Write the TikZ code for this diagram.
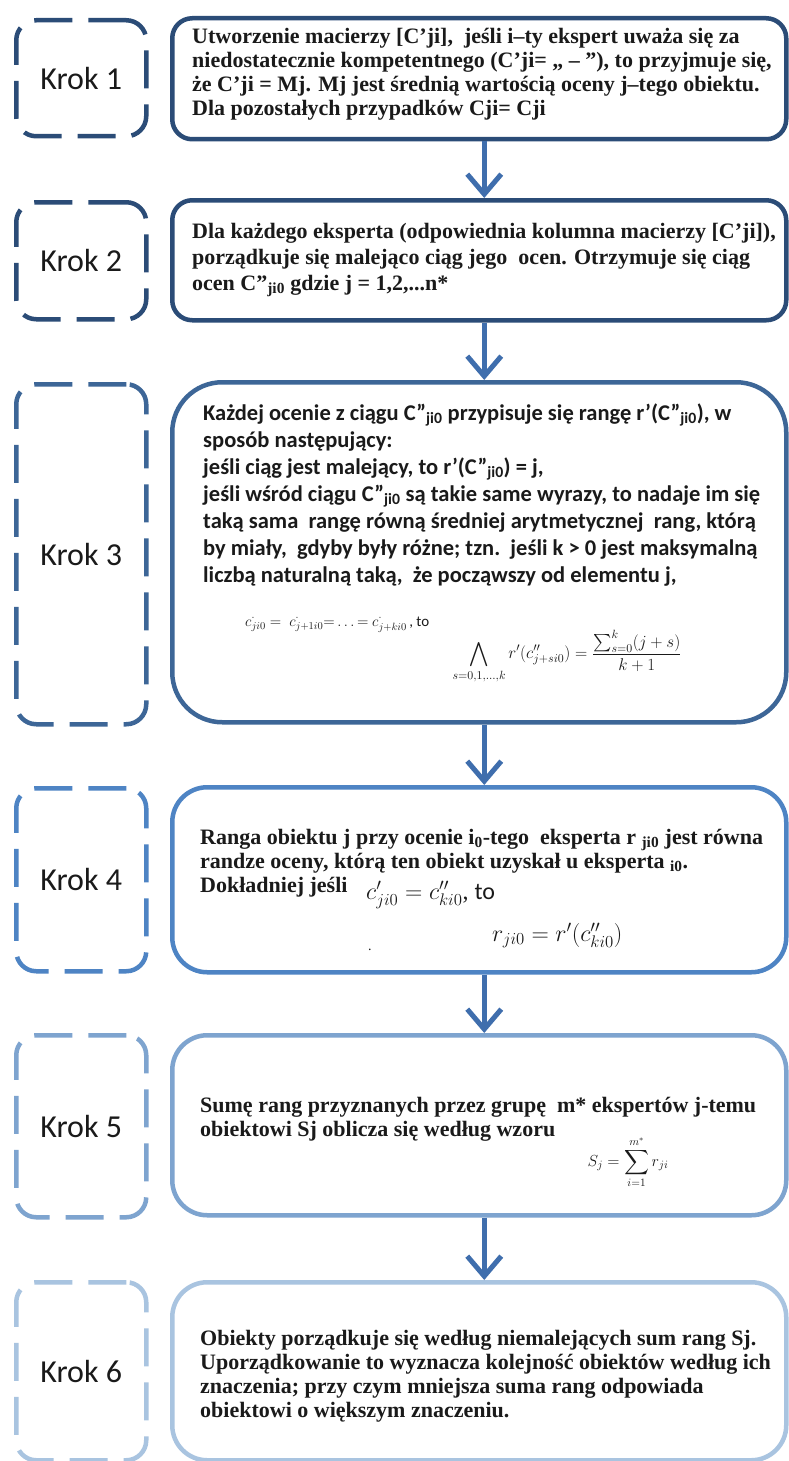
\documentclass[tikz,border=0pt]{standalone}
\usepackage{fix-cm}
\usepackage{amsmath}
\usepackage{fontspec}
\setmainfont{Liberation Serif}
\newfontfamily\calib{Carlito}
\usetikzlibrary{arrows.meta}
\definecolor{cA}{HTML}{2B4C77}
\definecolor{cC}{HTML}{3D6697}
\definecolor{cD}{HTML}{4E84C4}
\definecolor{cE}{HTML}{7EA4CF}
\definecolor{cF}{HTML}{A9C4E0}
\definecolor{arr}{HTML}{3F6EAD}
\definecolor{ink}{HTML}{1A1A1A}
\begin{document}
\begin{tikzpicture}[x=1pt,y=-1pt,
  stepbox/.style={draw, line width=4.5pt, anchor=north west, inner sep=0pt, minimum width=614pt},
  krokbox/.style={draw, line width=4.5pt, dash pattern=on 38pt off 16pt, rounded corners=20pt, anchor=north west, minimum width=130pt, font=\calib\fontsize{32}{38}\selectfont, text=ink},
  serift/.style={anchor=base west, align=left, inner sep=0pt, text=ink, font=\bfseries\fontsize{22}{24}\selectfont},
  sanst/.style={anchor=base west, align=left, inner sep=0pt, text=ink, font=\calib\bfseries\fontsize{22.5}{27}\selectfont},
  mathtxt/.style={anchor=base west, inner sep=0pt, text=ink},
  flow/.style={draw=arr, line width=5pt, -{Straight Barb[length=20pt,width=34pt]}},
]
\useasboundingbox (0,0) rectangle (788,1461);
\fill[white] (0,0) rectangle (788,1461);

% dashed step labels
\node[krokbox, draw=cA, minimum height=116pt] (k1) at (14,18) {Krok 1};
\node[krokbox, draw=cA, minimum height=117pt] (k2) at (14,200) {Krok 2};
\node[krokbox, draw=cC, minimum height=340pt] (k3) at (14,382) {Krok 3};
\node[krokbox, draw=cD, minimum height=183pt] (k4) at (14,786) {Krok 4};
\node[krokbox, draw=cE, minimum height=182pt] (k5) at (14,1033) {Krok 5};
\node[krokbox, draw=cF, minimum height=178pt] (k6) at (14,1280) {Krok 6};

% solid content boxes
\node[stepbox, draw=cA, rounded corners=20pt, minimum height=121pt] (s1) at (170,16) {};
\node[stepbox, draw=cA, rounded corners=20pt, minimum height=120pt] (s2) at (170,198) {};
\node[stepbox, draw=cC, rounded corners=50pt, minimum height=340pt] (s3) at (170,380) {};
\node[stepbox, draw=cD, rounded corners=35pt, minimum height=185pt] (s4) at (170,785) {};
\node[stepbox, draw=cE, rounded corners=35pt, minimum height=180pt] (s5) at (170,1033) {};
\node[stepbox, draw=cF, rounded corners=35pt, minimum height=178pt] (s6) at (170,1280) {};

% arrows
\draw[flow] ([xshift=5pt]s1.south) -- ([xshift=5pt]s2.north);
\draw[flow] ([xshift=5pt]s2.south) -- ([xshift=5pt]s3.north);
\draw[flow] ([xshift=5pt]s3.south) -- ([xshift=5pt]s4.north);
\draw[flow] ([xshift=5pt]s4.south) -- ([xshift=5pt]s5.north);
\draw[flow] ([xshift=5pt]s5.south) -- ([xshift=5pt]s6.north);

% texts (anchor = baseline of the last line)
\node[serift] (t1) at (192,116) {Utworzenie macierzy [C’ji],\ \ jeśli i–ty ekspert uważa się za\\
niedostatecznie kompetentnego (C’ji= „ – ”), to przyjmuje się,\\
że C’ji = Mj. Mj jest średnią wartością oceny j–tego obiektu.\\
Dla pozostałych przypadków Cji= Cji};

\node[serift, font=\bfseries\fontsize{22}{26}\selectfont] (t2) at (192,290) {Dla każdego eksperta (odpowiednia kolumna macierzy [C’ji]),\\
porządkuje się malejąco ciąg jego\ \ ocen. Otrzymuje się ciąg\\
ocen C”\textsubscript{ji0} gdzie j = 1,2,...n*};

\node[sanst] (t3) at (203,582) {Każdej ocenie z ciągu C”\textsubscript{ji0} przypisuje się rangę r’(C”\textsubscript{ji0}), w\\
sposób następujący:\\
jeśli ciąg jest malejący, to r’(C”\textsubscript{ji0}) = j,\\
jeśli wśród ciągu C”\textsubscript{ji0} są takie same wyrazy, to nadaje im się\\
taką sama\ \ rangę równą średniej arytmetycznej\ \ rang, którą\\
by miały,\ \ gdyby były różne; tzn.\ \ jeśli k > 0 jest maksymalną\\
liczbą naturalną taką,\ \ że począwszy od elementu j,};

\node[mathtxt, font=\fontsize{15}{18}\selectfont] (f3a) at (245,626)
  {$c^{\cdot}_{ji0} =\ c^{\cdot}_{j+1i0}{=}\ldots{=}\ c^{\cdot}_{j+ki0}$\,{\calib, to}};
\node[inner sep=0pt, text=ink, font=\fontsize{17}{20}\selectfont] (f3b) at (567,657)
  {$\displaystyle\bigwedge_{s=0,1,\ldots,k} r'(c''_{j+si0}) = \frac{\sum_{s=0}^{k}(j+s)}{k+1}$};

\node[serift] (t4) at (200,892) {Ranga obiektu j przy ocenie i\textsubscript{0}-tego\ \ eksperta r \textsubscript{ji0} jest równa\\
randze oceny, którą ten obiekt uzyskał u eksperta \textsubscript{i0}.\\
Dokładniej jeśli};
\node[mathtxt, font=\fontsize{24}{27}\selectfont] (f4a) at (366,899) {$c'_{ji0} = c''_{ki0}$, {\calib to}};
\node[mathtxt, font=\fontsize{24}{27}\selectfont] (f4b) at (492,941) {$r_{ji0} = r'(c''_{ki0})$};
\node[mathtxt, font=\fontsize{14}{16}\selectfont] (dot4) at (368,950) {.};

\node[serift] (t5a) at (200,1112) {Sumę rang przyznanych przez grupę\ \ m* ekspertów j-temu};
\node[serift] (t5b) at (200,1136) {obiektowi Sj oblicza się według wzoru};
\node[inner sep=0pt, text=ink, font=\fontsize{16}{19}\selectfont] (f5) at (628,1162)
  {$\displaystyle S_j = \sum_{i=1}^{m^*} r_{ji}$};

\node[serift] (t6) at (200,1417) {Obiekty porządkuje się według niemalejących sum rang Sj.\\
Uporządkowanie to wyznacza kolejność obiektów według ich\\
znaczenia; przy czym mniejsza suma rang odpowiada\\
obiektowi o większym znaczeniu.};
\end{tikzpicture}
\end{document}
